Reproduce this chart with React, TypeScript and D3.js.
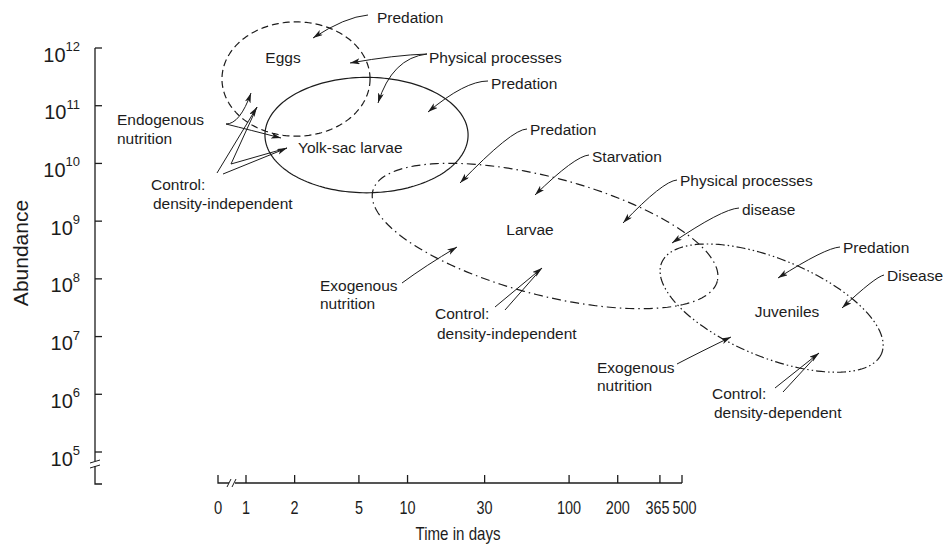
import React from 'react';
import * as d3 from 'd3';

// ---- Data ----
const xTickValues = [1, 2, 5, 10, 30, 100, 200, 365, 500];
const xTickLabels = ['1', '2', '5', '10', '30', '100', '200', '365', '500'];
const xTickLabelNudge = [0, 0, 0, 0, 0, 0, 0, -2.5, 2.5];
const yTickExponents = [5, 6, 7, 8, 9, 10, 11, 12];

const stageNames = ['Eggs', 'Yolk-sac larvae', 'Larvae', 'Juveniles'];
const stageStartDays = [0.71, 1.31, 6.1, 374];
const stageStartAbundance = [2.9e11, 3.1e10, 3.36e9, 1.9e8];
const stageEndDays = [5.86, 23.7, 827, 8600];
const stageEndAbundance = [2.9e11, 3.1e10, 9.1e7, 5.1e6];
const stageSpreadDecades = [0.99, 1.0, 1.02, 0.85];
const stageDash = ['7,4', null, '9,4,1.5,4', '9,3,1.5,3,1.5,3'];

// annotation texts [text, x, y(center), anchor]
const labelTexts: [string, number, number, string][] = [
  ['Predation', 377, 17, 'start'],
  ['Physical processes', 429, 57, 'start'],
  ['Predation', 491, 83, 'start'],
  ['Predation', 530, 129, 'start'],
  ['Starvation', 592, 156, 'start'],
  ['Physical processes', 680, 180, 'start'],
  ['disease', 742, 209, 'start'],
  ['Predation', 843, 247, 'start'],
  ['Disease', 887, 275, 'start'],
  ['Endogenous', 117, 119, 'start'],
  ['nutrition', 117, 138, 'start'],
  ['Control:', 151, 184, 'start'],
  ['density-independent', 153, 203, 'start'],
  ['Exogenous', 320, 285, 'start'],
  ['nutrition', 320, 303, 'start'],
  ['Control:', 435, 313, 'start'],
  ['density-independent', 437, 333, 'start'],
  ['Exogenous', 597, 367, 'start'],
  ['nutrition', 597, 385, 'start'],
  ['Control:', 712, 393, 'start'],
  ['density-dependent', 714, 412, 'start'],
];
const stageLabelPos: [number, number, string][] = [
  [283, 57, 'middle'],
  [298, 147, 'start'],
  [530, 229, 'middle'],
  [787, 311, 'middle'],
];

// arrows: from, control (or null), to, head
const arrowList: [number[], number[] | null, number[], boolean][] = [
  [[368, 15], [345, 17], [313, 38], true],
  [[427, 54], [395, 55], [350, 63], true],
  [[427, 54], [392, 58], [378, 103], true],
  [[488, 81], [465, 81], [428, 112], true],
  [[527, 129], [512, 129], [460, 183], true],
  [[589, 155], [575, 156], [535, 195], true],
  [[677, 180], [663, 181], [623, 223], true],
  [[739, 208], [722, 209], [672, 243], true],
  [[840, 247], [825, 248], [778, 278], true],
  [[884, 275], [875, 277], [842, 308], true],
  [[226, 124], [240, 124], [251, 93], true],
  [[226, 124], [250, 130], [281, 138], true],
  [[217, 173], null, [257, 107], true],
  [[231, 164], null, [257, 107], false],
  [[223, 174], null, [287, 148], true],
  [[231, 164], null, [287, 148], false],
  [[402, 283], [425, 266], [457, 247], true],
  [[495, 307], null, [542, 268], true],
  [[505, 310], null, [542, 268], false],
  [[677, 364], [700, 352], [731, 337], true],
  [[775, 388], null, [819, 353], true],
  [[783, 392], null, [819, 353], false],
];

const W = 943;
const H = 548;
const INK = '#1c1c1c';
const FONT = "'Liberation Sans', Arial, Helvetica, sans-serif";

export default function App() {
  const x = d3.scaleLog().domain([1, 500]).range([246, 682]);
  const y = d3.scaleLog().domain([1e5, 1e12]).range([452, 48]);
  const axisX = 95;
  const axisY = 483;
  const zeroX = x(1) - 28;
  const decadeY = y(1e5) - y(1e6);

  const ellipsePath = (i: number) => {
    const x1 = x(stageStartDays[i]);
    const y1 = y(stageStartAbundance[i]);
    const x2 = x(stageEndDays[i]);
    const y2 = y(stageEndAbundance[i]);
    const cx = (x1 + x2) / 2;
    const cy = (y1 + y2) / 2;
    const a = Math.hypot(x2 - x1, y2 - y1) / 2;
    const th = Math.atan2(y2 - y1, x2 - x1);
    const b = stageSpreadDecades[i] * decadeY;
    const pts: [number, number][] = d3.range(0, 360, 2).map((deg) => {
      const t = (deg * Math.PI) / 180;
      const ex = a * Math.cos(t);
      const ey = b * Math.sin(t);
      return [cx + ex * Math.cos(th) - ey * Math.sin(th), cy + ex * Math.sin(th) + ey * Math.cos(th)];
    });
    return d3.line().curve(d3.curveLinearClosed)(pts) || '';
  };

  const arrowPath = (a: [number[], number[] | null, number[], boolean]) => {
    const [f, c, t] = a;
    const p = d3.path();
    p.moveTo(f[0], f[1]);
    if (c) p.quadraticCurveTo(c[0], c[1], t[0], t[1]);
    else p.lineTo(t[0], t[1]);
    return p.toString();
  };

  return (
    <svg width={W} height={H} style={{ position: 'absolute', left: 0, top: 0, background: '#fff' }}>
      <defs>
        <marker id="ah" markerUnits="userSpaceOnUse" markerWidth="12" markerHeight="8" refX="10" refY="3" orient="auto">
          <path d="M0,0 L10,3 L0,6 L2.5,3 Z" fill={INK} />
        </marker>
      </defs>

      {/* Y axis */}
      <g stroke={INK} strokeWidth={1.3} fill="none">
        <path d={`M${axisX},${y(1e12)} V461`} />
        <path d={`M${axisX - 5},463 L${axisX + 5},460`} strokeWidth={1} />
        <path d={`M${axisX - 5},468 L${axisX + 5},465`} strokeWidth={1} />
        <path d={`M${axisX},466 V484 H${axisX + 7}`} />
        {yTickExponents.map((e) => (
          <path key={e} d={`M${axisX},${y(Math.pow(10, e))} H${axisX + 7}`} />
        ))}
      </g>
      <g fill={INK} fontFamily={FONT}>
        {yTickExponents.map((e) => (
          <text key={e} x={80} y={y(Math.pow(10, e)) + 13.5} textAnchor="end" fontSize={20}>
            10
            <tspan fontSize={13} dy={-10.5}>{e}</tspan>
          </text>
        ))}
        <text transform={`translate(28,253) rotate(-90)`} textAnchor="middle" fontSize={21}>
          Abundance
        </text>
      </g>

      {/* X axis */}
      <g stroke={INK} strokeWidth={1.3} fill="none">
        <path d={`M${zeroX},475 V${axisY} H${zeroX + 11}`} />
        <path d={`M${zeroX + 9},487 L${zeroX + 13},479`} strokeWidth={1} />
        <path d={`M${zeroX + 14},487 L${zeroX + 18},479`} strokeWidth={1} />
        <path d={`M${zeroX + 17},${axisY} H${x(500)}`} />
        {xTickValues.map((v) => (
          <path key={v} d={`M${x(v)},${axisY} V475`} />
        ))}
      </g>
      <g fill={INK} fontFamily={FONT}>
        <g transform={`translate(${zeroX},514) scale(0.78,1)`}>
          <text textAnchor="middle" fontSize={19}>0</text>
        </g>
        {xTickValues.map((v, i) => (
          <g key={v} transform={`translate(${x(v) + xTickLabelNudge[i]},514) scale(0.76,1)`}>
            <text textAnchor="middle" fontSize={19}>{xTickLabels[i]}</text>
          </g>
        ))}
        <g transform={`translate(458,540) scale(0.84,1)`}>
          <text textAnchor="middle" fontSize={18}>Time in days</text>
        </g>
      </g>

      {/* Stage ellipses */}
      <g fill="none" stroke={INK} strokeWidth={1.2}>
        {stageNames.map((n, i) => (
          <path key={n} d={ellipsePath(i)} strokeDasharray={stageDash[i] || undefined} />
        ))}
      </g>

      {/* Arrows */}
      <g fill="none" stroke={INK} strokeWidth={1}>
        {arrowList.map((a, i) => (
          <path key={i} d={arrowPath(a)} markerEnd={a[3] ? 'url(#ah)' : undefined} />
        ))}
      </g>

      {/* Labels */}
      <g fill={INK} fontFamily={FONT} fontSize={15.5}>
        {stageNames.map((n, i) => (
          <text key={n} x={stageLabelPos[i][0]} y={stageLabelPos[i][1] + 5.5} textAnchor={stageLabelPos[i][2]}>
            {n}
          </text>
        ))}
        {labelTexts.map((l, i) => (
          <text key={i} x={l[1]} y={l[2] + 5.5} textAnchor={l[3]}>
            {l[0]}
          </text>
        ))}
      </g>
    </svg>
  );
}
